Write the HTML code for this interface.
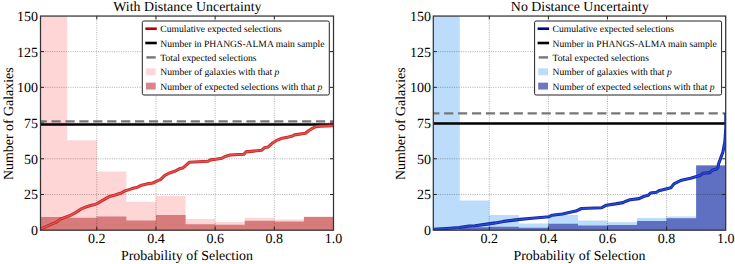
<!DOCTYPE html>
<html><head><meta charset="utf-8"><style>
html,body{margin:0;padding:0;background:#fff;width:735px;height:264px;overflow:hidden}
svg{display:block}
text{font-family:"Liberation Serif",serif;fill:#000;text-rendering:geometricPrecision}
</style></head><body>
<svg width="735" height="264" viewBox="0 0 735 264">
<defs><clipPath id="c40"><rect x="40.5" y="15.9" width="293" height="214.3"/></clipPath><clipPath id="c433"><rect x="433.3" y="15.9" width="292.4" height="214.3"/></clipPath></defs>
<path d="M40.5 230.2V16.1H67.19V140.19H96.78V171.62H126.37V201.63H155.96V196.05H185.55V219.06H215.14V222.06H244.73V217.77H274.32V219.6H303.91V216.5H333.5V230.2Z" fill="#ffd6d6"/>
<path d="M40.5 230.2V217H67.19V217.8H96.78V216.4H126.37V220.5H155.96V215H185.55V224.2H215.14V224.7H244.73V220.7H274.32V221.4H303.91V216.9H333.5V230.2Z" fill="#d77b7b"/>
<path d="M96.78 15.9V230.2M155.96 15.9V230.2M215.14 15.9V230.2M274.32 15.9V230.2M40.5 194.48H333.5M40.5 158.77H333.5M40.5 123.05H333.5M40.5 87.33H333.5M40.5 51.62H333.5" stroke="#000" stroke-opacity="0.45" stroke-width="0.7" stroke-dasharray="1 1.3" fill="none"/>
<path d="M40.5 124.5H333.5" stroke="#000" stroke-width="2.6"/>
<path d="M40.5 121.3H333.5" stroke="#777" stroke-width="2.3" stroke-dasharray="9.2 4.72" stroke-dashoffset="2.9"/>
<g clip-path="url(#c40)"><polyline points="40.5,229.6 41.2,228.8 46.1,226.7 52.1,223.9 55.8,222.4 60,219.4 64.2,217.6 70.3,215.5 76.4,212.1 80.7,209.2 86,206.9 91.3,205.2 95.2,204.5 99.2,202.3 103.9,199.7 109.2,196.6 114.5,195.3 120.4,193.3 125.1,190.9 129,189.6 133,188.2 137.6,187.2 141.6,185.2 146.9,183.9 152.9,183 156.2,181.3 160.8,179.3 164.8,175.3 168.8,173.3 174.7,171.3 179.3,168.8 182.6,167.9 185.3,165.9 189.2,162.3 198.5,161.7 207.8,161.3 210.5,159.9 215.8,159.3 221.7,158.3 225,156.5 230.1,155 243.9,154.2 245.9,151.9 261.8,150.2 264.3,147.8 267.9,147.1 273,142.7 276.1,140.7 281,138.6 287.5,137.2 292.5,136 294.5,134.9 305.5,133.3 308.6,130.8 312.5,128.3 315.8,126.7 320,126.2 332.7,125.7 336,125.5" fill="none" stroke="#c42626" stroke-width="3.1" stroke-linejoin="round"/><polyline points="40.5,229.6 41.2,228.8 46.1,226.7 52.1,223.9 55.8,222.4 60,219.4 64.2,217.6 70.3,215.5 76.4,212.1 80.7,209.2 86,206.9 91.3,205.2 95.2,204.5 99.2,202.3 103.9,199.7 109.2,196.6 114.5,195.3 120.4,193.3 125.1,190.9 129,189.6 133,188.2 137.6,187.2 141.6,185.2 146.9,183.9 152.9,183 156.2,181.3 160.8,179.3 164.8,175.3 168.8,173.3 174.7,171.3 179.3,168.8 182.6,167.9 185.3,165.9 189.2,162.3 198.5,161.7 207.8,161.3 210.5,159.9 215.8,159.3 221.7,158.3 225,156.5 230.1,155 243.9,154.2 245.9,151.9 261.8,150.2 264.3,147.8 267.9,147.1 273,142.7 276.1,140.7 281,138.6 287.5,137.2 292.5,136 294.5,134.9 305.5,133.3 308.6,130.8 312.5,128.3 315.8,126.7 320,126.2 332.7,125.7 336,125.5" fill="none" stroke="#e5504f" stroke-width="1.5" stroke-linejoin="round"/></g>
<path d="M96.78 230.2v-3.5M96.78 15.9v3.5M155.96 230.2v-3.5M155.96 15.9v3.5M215.14 230.2v-3.5M215.14 15.9v3.5M274.32 230.2v-3.5M274.32 15.9v3.5M40.5 194.48h3.5M333.5 194.48h-3.5M40.5 158.77h3.5M333.5 158.77h-3.5M40.5 123.05h3.5M333.5 123.05h-3.5M40.5 87.33h3.5M333.5 87.33h-3.5M40.5 51.62h3.5M333.5 51.62h-3.5" stroke="#222" stroke-width="1"/>
<rect x="40.5" y="16.05" width="293" height="214.15" fill="none" stroke="#333" stroke-width="1.25"/>
<text x="38.1" y="235.1" text-anchor="end" font-size="14.0">0</text>
<text x="38.1" y="199.38" text-anchor="end" font-size="14.0">25</text>
<text x="38.1" y="163.67" text-anchor="end" font-size="14.0">50</text>
<text x="38.1" y="127.95" text-anchor="end" font-size="14.0">75</text>
<text x="38.1" y="92.23" text-anchor="end" font-size="14.0">100</text>
<text x="38.1" y="56.52" text-anchor="end" font-size="14.0">125</text>
<text x="38.1" y="20.8" text-anchor="end" font-size="14.0">150</text>
<text x="96.78" y="243.2" text-anchor="middle" font-size="14.0">0.2</text>
<text x="155.96" y="243.2" text-anchor="middle" font-size="14.0">0.4</text>
<text x="215.14" y="243.2" text-anchor="middle" font-size="14.0">0.6</text>
<text x="274.32" y="243.2" text-anchor="middle" font-size="14.0">0.8</text>
<text x="333.5" y="243.2" text-anchor="middle" font-size="14.0">1.0</text>
<text x="187.4" y="11" text-anchor="middle" font-size="13.9">With Distance Uncertainty</text>
<text x="187" y="259.6" text-anchor="middle" font-size="13.9">Probability of Selection</text>
<text transform="translate(12.6 123.7) rotate(-90)" text-anchor="middle" font-size="13.9">Number of Galaxies</text>
<rect x="142.3" y="21" width="187" height="74" rx="1.6" fill="#fff" stroke="#222" stroke-width="1"/>
<path d="M145.3 28.7H156.8" stroke="#c00000" stroke-width="2.6"/>
<path d="M145.3 43H156.8" stroke="#000" stroke-width="2.6"/>
<path d="M146.4 57.4H155.7" stroke="#777" stroke-width="2.4"/>
<rect x="145.9" y="68.35" width="9.8" height="6.9" fill="#ffd6d6"/>
<rect x="145.9" y="82.65" width="9.8" height="6.9" fill="#d6868c"/>
<text x="160.3" y="32.35" font-size="9.6">Cumulative expected selections</text>
<text x="160.3" y="46.65" font-size="9.6">Number in PHANGS-ALMA main sample</text>
<text x="160.3" y="61.05" font-size="9.6">Total expected selections</text>
<text x="160.3" y="75.45" font-size="9.6">Number of galaxies with that <tspan font-style="italic">p</tspan></text>
<text x="160.3" y="89.75" font-size="9.6">Number of expected selections with that <tspan font-style="italic">p</tspan></text>
<path d="M433.3 230.2V16.1H459.75V200.4H489.3V215.1H518.85V223.5H548.4V214.9H577.95V220.6H607.5V222.2H637.05V217.9H666.6V216.4H696.15V165H725.7V230.2Z" fill="#bbdcfb"/>
<path d="M433.3 230.2V229.5H459.75V227.2H489.3V226.8H518.85V227.7H548.4V223.7H577.95V225.5H607.5V225H637.05V220.9H666.6V218.2H696.15V165.5H725.7V230.2Z" fill="#5f6fc2"/>
<path d="M489.3 15.9V230.2M548.4 15.9V230.2M607.5 15.9V230.2M666.6 15.9V230.2M433.3 194.48H725.7M433.3 158.77H725.7M433.3 123.05H725.7M433.3 87.33H725.7M433.3 51.62H725.7" stroke="#000" stroke-opacity="0.45" stroke-width="0.7" stroke-dasharray="1 1.3" fill="none"/>
<path d="M433.3 123.5H725.7" stroke="#000" stroke-width="2.6"/>
<path d="M433.3 113.3H725.7" stroke="#777" stroke-width="2.3" stroke-dasharray="9.2 4.72" stroke-dashoffset="3.1"/>
<g clip-path="url(#c433)"><polyline points="433,229.3 446.7,228.5 459.2,227.5 469.2,226 475,225.7 485.2,224.4 495.4,222.9 503.6,221.4 513.9,220.1 520,219.4 532.1,218.2 549.1,216.7 552.2,215.2 562.5,214 570,212.3 576,211.1 581.4,208.5 601.8,207.7 606.4,205.2 615.5,203.9 623,202.6 626,201.2 630,199.8 639.1,198.6 643.6,196.5 648.2,195.3 650.5,193 656.5,192.3 658.8,190.8 670.9,187.7 673.9,183.9 681.5,180.2 690.6,178.3 700,175.5 703,173.2 710,172.6 712,170.3 716,169.2 718,167.5 718.5,164 720,160.1 722.9,151.9 724.9,141.5 725.8,128 725.8,113.3" fill="none" stroke="#15239a" stroke-width="3.1" stroke-linejoin="round"/><polyline points="433,229.3 446.7,228.5 459.2,227.5 469.2,226 475,225.7 485.2,224.4 495.4,222.9 503.6,221.4 513.9,220.1 520,219.4 532.1,218.2 549.1,216.7 552.2,215.2 562.5,214 570,212.3 576,211.1 581.4,208.5 601.8,207.7 606.4,205.2 615.5,203.9 623,202.6 626,201.2 630,199.8 639.1,198.6 643.6,196.5 648.2,195.3 650.5,193 656.5,192.3 658.8,190.8 670.9,187.7 673.9,183.9 681.5,180.2 690.6,178.3 700,175.5 703,173.2 710,172.6 712,170.3 716,169.2 718,167.5 718.5,164 720,160.1 722.9,151.9 724.9,141.5 725.8,128 725.8,113.3" fill="none" stroke="#2648d8" stroke-width="1.5" stroke-linejoin="round"/></g>
<path d="M489.3 230.2v-3.5M489.3 15.9v3.5M548.4 230.2v-3.5M548.4 15.9v3.5M607.5 230.2v-3.5M607.5 15.9v3.5M666.6 230.2v-3.5M666.6 15.9v3.5M433.3 194.48h3.5M725.7 194.48h-3.5M433.3 158.77h3.5M725.7 158.77h-3.5M433.3 123.05h3.5M725.7 123.05h-3.5M433.3 87.33h3.5M725.7 87.33h-3.5M433.3 51.62h3.5M725.7 51.62h-3.5" stroke="#222" stroke-width="1"/>
<rect x="433.3" y="16.05" width="292.4" height="214.15" fill="none" stroke="#333" stroke-width="1.25"/>
<text x="430.9" y="235.1" text-anchor="end" font-size="14.0">0</text>
<text x="430.9" y="199.38" text-anchor="end" font-size="14.0">25</text>
<text x="430.9" y="163.67" text-anchor="end" font-size="14.0">50</text>
<text x="430.9" y="127.95" text-anchor="end" font-size="14.0">75</text>
<text x="430.9" y="92.23" text-anchor="end" font-size="14.0">100</text>
<text x="430.9" y="56.52" text-anchor="end" font-size="14.0">125</text>
<text x="430.9" y="20.8" text-anchor="end" font-size="14.0">150</text>
<text x="489.3" y="243.2" text-anchor="middle" font-size="14.0">0.2</text>
<text x="548.4" y="243.2" text-anchor="middle" font-size="14.0">0.4</text>
<text x="607.5" y="243.2" text-anchor="middle" font-size="14.0">0.6</text>
<text x="666.6" y="243.2" text-anchor="middle" font-size="14.0">0.8</text>
<text x="725.7" y="243.2" text-anchor="middle" font-size="14.0">1.0</text>
<text x="579.9" y="11" text-anchor="middle" font-size="13.9">No Distance Uncertainty</text>
<text x="579.5" y="259.6" text-anchor="middle" font-size="13.9">Probability of Selection</text>
<text transform="translate(405.4 123.7) rotate(-90)" text-anchor="middle" font-size="13.9">Number of Galaxies</text>
<rect x="534.6" y="21" width="187" height="74" rx="1.6" fill="#fff" stroke="#222" stroke-width="1"/>
<path d="M537.6 28.7H549.1" stroke="#00008b" stroke-width="2.6"/>
<path d="M537.6 43H549.1" stroke="#000" stroke-width="2.6"/>
<path d="M538.7 57.4H548" stroke="#777" stroke-width="2.4"/>
<rect x="538.2" y="68.35" width="9.8" height="6.9" fill="#bbdcfb"/>
<rect x="538.2" y="82.65" width="9.8" height="6.9" fill="#7076c0"/>
<text x="552.6" y="32.35" font-size="9.6">Cumulative expected selections</text>
<text x="552.6" y="46.65" font-size="9.6">Number in PHANGS-ALMA main sample</text>
<text x="552.6" y="61.05" font-size="9.6">Total expected selections</text>
<text x="552.6" y="75.45" font-size="9.6">Number of galaxies with that <tspan font-style="italic">p</tspan></text>
<text x="552.6" y="89.75" font-size="9.6">Number of expected selections with that <tspan font-style="italic">p</tspan></text>
</svg>
</body></html>
